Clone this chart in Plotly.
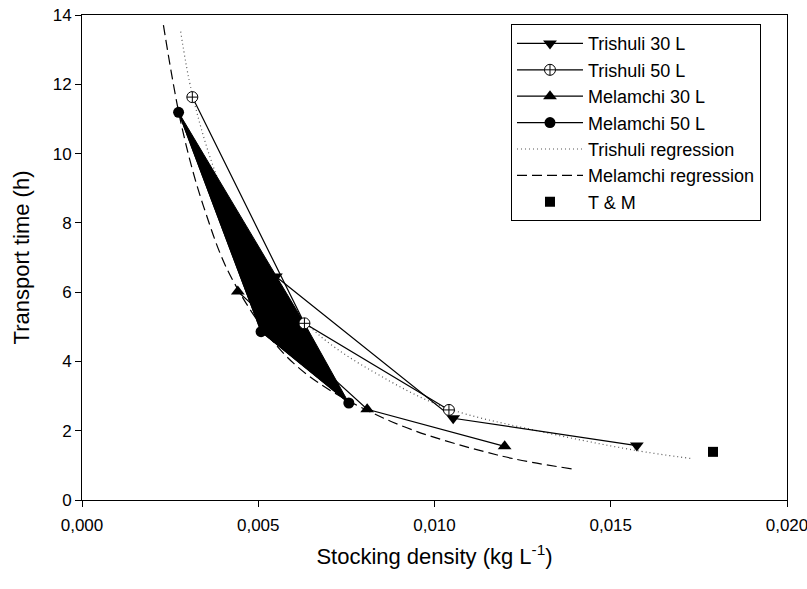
import plotly.graph_objects as go

# Measured transport times (h) versus stocking density (kg/L)
trishuli30_x = [0.00550, 0.01053, 0.01574]
trishuli30_y = [6.45, 2.36, 1.57]

trishuli50_x = [0.00313, 0.00631, 0.01041]
trishuli50_y = [11.63, 5.10, 2.60]

melamchi30_x = [0.00442, 0.00809, 0.01199]
melamchi30_y = [6.02, 2.62, 1.55]

melamchi50_x = [0.00274, 0.00508, 0.00757]
melamchi50_y = [11.19, 4.86, 2.80]

tm_x = [0.0179]
tm_y = [1.39]

# Regression curves (sampled along the fitted lines)
trishuli_reg_x = [0.00280, 0.00312, 0.00383, 0.00500, 0.00667, 0.00875,
                  0.01036, 0.01282, 0.01566, 0.01727]
trishuli_reg_y = [13.52, 11.75, 9.33, 6.79, 4.81, 3.42,
                  2.65, 2.02, 1.44, 1.20]

melamchi_reg_x = [0.00231, 0.00283, 0.00345, 0.00430, 0.00600, 0.00856,
                  0.01178, 0.01396]
melamchi_reg_y = [13.71, 10.78, 8.47, 6.30, 3.95, 2.36,
                  1.30, 0.89]

x_ticks = [0.000, 0.005, 0.010, 0.015, 0.020]
y_ticks = [0, 2, 4, 6, 8, 10, 12, 14]

FONT = "Liberation Sans, Arial, sans-serif"

fig = go.Figure()

# regression curves (drawn underneath)
fig.add_trace(go.Scatter(
    x=trishuli_reg_x, y=trishuli_reg_y, mode="lines", name="Trishuli regression",
    line=dict(color="#555555", width=1.2, dash="1px,3px", shape="spline"),
    legendrank=5))
fig.add_trace(go.Scatter(
    x=melamchi_reg_x, y=melamchi_reg_y, mode="lines", name="Melamchi regression",
    line=dict(color="black", width=1.2, dash="10px,5px", shape="spline"),
    legendrank=6))

fig.add_trace(go.Scatter(
    x=trishuli30_x, y=trishuli30_y, mode="lines+markers", name="Trishuli 30 L",
    line=dict(color="black", width=1.2),
    marker=dict(symbol="triangle-down", size=12, color="black"),
    legendrank=1))
fig.add_trace(go.Scatter(
    x=melamchi30_x, y=melamchi30_y, mode="lines+markers", name="Melamchi 30 L",
    line=dict(color="black", width=1.2),
    marker=dict(symbol="triangle-up", size=12, color="black"),
    legendrank=3))

# filled area spanning the Melamchi 50 L points
poly_x = [melamchi50_x[0], trishuli50_x[1], melamchi50_x[2], melamchi50_x[1], melamchi50_x[0]]
poly_y = [melamchi50_y[0], trishuli50_y[1], melamchi50_y[2], melamchi50_y[1], melamchi50_y[0]]
fig.add_trace(go.Scatter(
    x=poly_x, y=poly_y, mode="lines", fill="toself", fillcolor="black",
    line=dict(color="black", width=1), showlegend=False, hoverinfo="skip"))

fig.add_trace(go.Scatter(
    x=melamchi50_x, y=melamchi50_y, mode="lines+markers", name="Melamchi 50 L",
    line=dict(color="black", width=1.2),
    marker=dict(symbol="circle", size=11, color="black"),
    legendrank=4))
fig.add_trace(go.Scatter(
    x=trishuli50_x, y=trishuli50_y, mode="lines+markers", name="Trishuli 50 L",
    line=dict(color="black", width=1.2),
    marker=dict(symbol="circle-cross", size=11, color="white",
                line=dict(color="black", width=1)),
    legendrank=2))
fig.add_trace(go.Scatter(
    x=tm_x, y=tm_y, mode="markers", name="T & M",
    marker=dict(symbol="square", size=10, color="black"),
    legendrank=7))

fig.update_layout(
    width=807, height=589,
    margin=dict(l=82, r=20, t=15, b=89, autoexpand=False),
    paper_bgcolor="white", plot_bgcolor="white",
    font=dict(family=FONT, size=17, color="black"),
    separators=",.",
    showlegend=True,
    legend=dict(
        x=0.6085, y=0.981, xanchor="left", yanchor="top",
        bgcolor="white", bordercolor="black", borderwidth=1,
        font=dict(family=FONT, size=18, color="black"),
        itemwidth=66, tracegroupgap=0,
    ),
)

fig.update_xaxes(
    range=[0, 0.020], tickvals=x_ticks, tickformat=".3f",
    ticklabeloverflow="allow", automargin=False,
    showline=True, linecolor="black", linewidth=1, mirror=True,
    ticks="outside", ticklen=6, tickcolor="black", ticklabelstandoff=4,
    showgrid=False, zeroline=False,
    title=dict(text="Stocking density (kg L<sup>-1</sup>)",
               font=dict(family=FONT, size=22), standoff=14),
)
fig.update_yaxes(
    range=[0, 14], tickvals=y_ticks, automargin=False,
    showline=True, linecolor="black", linewidth=1, mirror=True,
    ticks="outside", ticklen=6, tickcolor="black",
    showgrid=False, zeroline=False,
    title=dict(text="Transport time (h)",
               font=dict(family=FONT, size=22), standoff=16),
)

fig.write_html("out.html")
